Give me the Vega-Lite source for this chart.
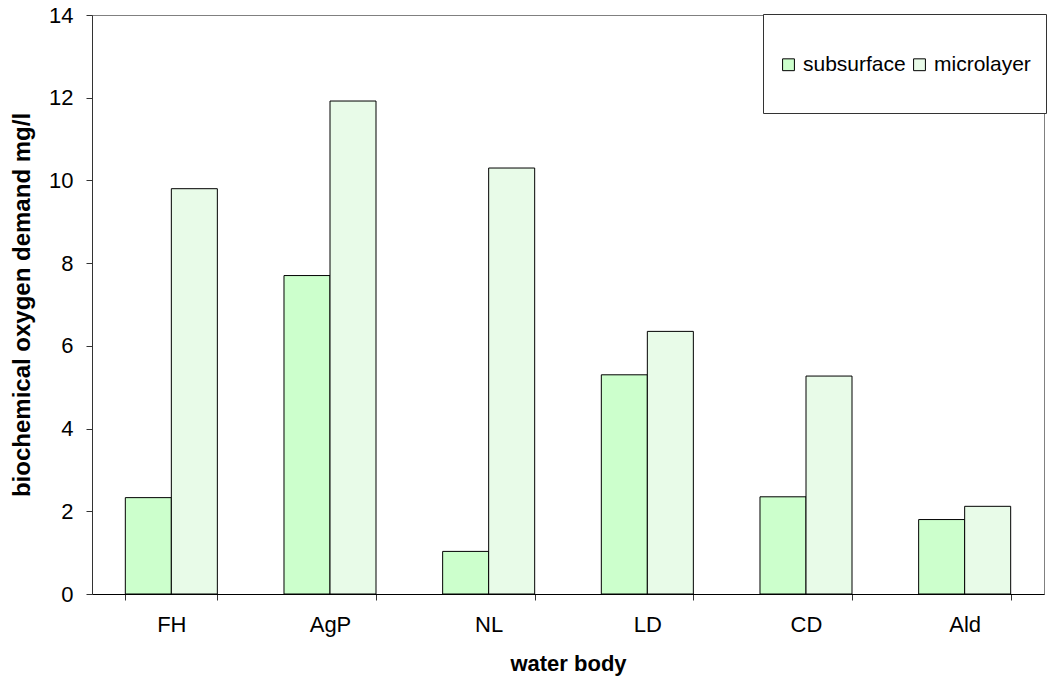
{
  "$schema": "https://vega.github.io/schema/vega-lite/v6.json",
  "width": 952,
  "height": 579,
  "autosize": {"type": "none"},
  "padding": {"left": 92, "top": 15, "right": 4, "bottom": 85},
  "background": "white",
  "config": {
    "font": "Liberation Sans",
    "view": {"stroke": "#808080", "strokeWidth": 1},
    "axis": {"labelFont": "Liberation Sans", "titleFont": "Liberation Sans", "labelColor": "black", "titleColor": "black", "domainColor": "#333333", "tickColor": "#333333", "grid": false}
  },
  "data": {
    "values": [
      {"body": "FH", "layer": "subsurface", "bod": 2.33},
      {"body": "FH", "layer": "microlayer", "bod": 9.8},
      {"body": "AgP", "layer": "subsurface", "bod": 7.7},
      {"body": "AgP", "layer": "microlayer", "bod": 11.92},
      {"body": "NL", "layer": "subsurface", "bod": 1.03},
      {"body": "NL", "layer": "microlayer", "bod": 10.3},
      {"body": "LD", "layer": "subsurface", "bod": 5.3},
      {"body": "LD", "layer": "microlayer", "bod": 6.35},
      {"body": "CD", "layer": "subsurface", "bod": 2.35},
      {"body": "CD", "layer": "microlayer", "bod": 5.27},
      {"body": "Ald", "layer": "subsurface", "bod": 1.8},
      {"body": "Ald", "layer": "microlayer", "bod": 2.12}
    ]
  },
  "mark": {"type": "bar", "stroke": "black", "strokeWidth": 1},
  "encoding": {
    "x": {
      "field": "body", "type": "nominal", "sort": null,
      "scale": {"paddingInner": 0.42, "paddingOuter": 0.21},
      "axis": {"title": "water body", "titleFontSize": 22, "titleFontWeight": "bold", "titlePadding": 18, "labelFontSize": 22, "labelAngle": 0, "labelPadding": 14, "tickBand": "extent", "tickSize": 6, "domainColor": "black"}
    },
    "xOffset": {"field": "layer", "type": "nominal", "sort": ["subsurface", "microlayer"]},
    "y": {
      "field": "bod", "type": "quantitative",
      "scale": {"domain": [0, 14], "nice": false},
      "axis": {"title": "biochemical oxygen demand mg/l", "titleFontSize": 24, "titleFontWeight": "bold", "titlePadding": 14, "labelFontSize": 22, "values": [0, 2, 4, 6, 8, 10, 12, 14], "tickSize": 6, "labelPadding": 13}
    },
    "fill": {
      "field": "layer", "type": "nominal",
      "scale": {"domain": ["subsurface", "microlayer"], "range": ["#ccffcc", "#e8fbe8"]},
      "legend": {
        "orient": "none", "legendX": 671, "legendY": -1, "direction": "horizontal",
        "title": " ", "titleFontSize": 1, "titlePadding": 24,
        "labelExpr": "[datum.label, '']",
        "strokeColor": "#333333", "padding": 15, "fillColor": "white",
        "symbolType": "square", "symbolSize": 140, "symbolStrokeColor": "black", "symbolStrokeWidth": 1,
        "labelFontSize": 21, "labelFont": "Liberation Sans", "labelColor": "black", "columnPadding": 3, "labelOffset": 4
      }
    }
  }
}
